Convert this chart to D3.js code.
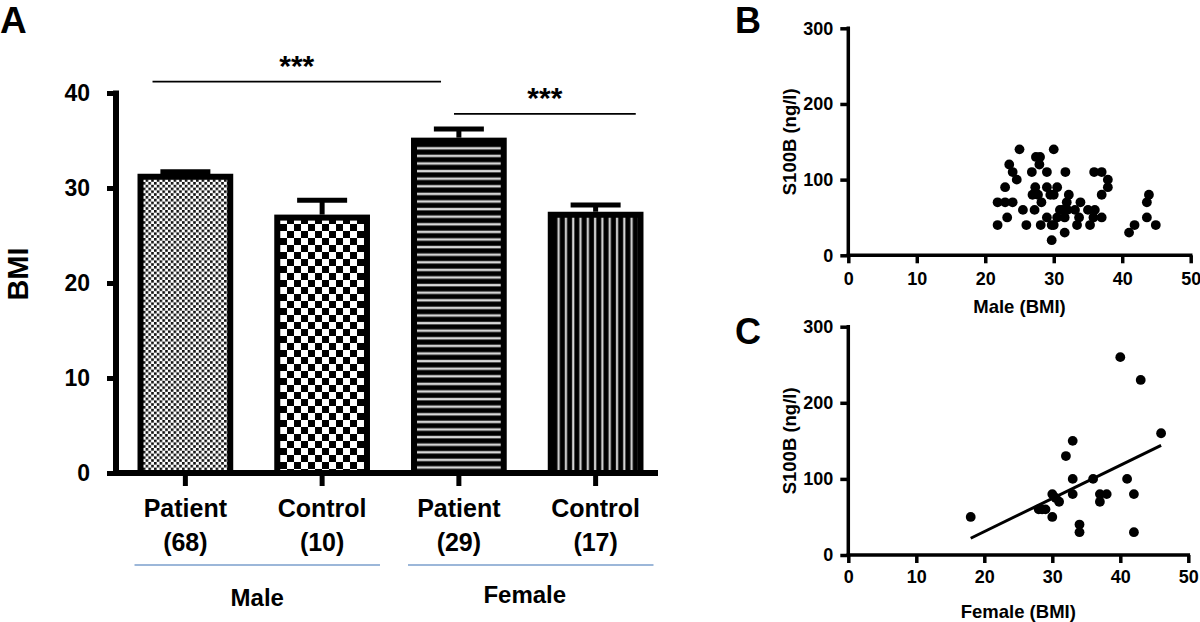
<!DOCTYPE html>
<html><head><meta charset="utf-8">
<script src="https://cdn.jsdelivr.net/npm/d3@7"></script>
<style>body{margin:0;background:#fff}svg text{font-family:"Liberation Sans",Arial,Helvetica,sans-serif;font-weight:bold;fill:#000}</style>
</head><body><svg id="c" width="1200" height="622"></svg>
<script>
// ---- Panel A data ----
const categories = ["Patient","Control","Patient","Control"];
const counts = ["(68)","(10)","(29)","(17)"];
const bmiMean = [31.5,27.2,35.3,27.5];
const bmiErrTop = [31.7,28.7,36.2,28.2];
const groups = ["Male","Female"];
const groupSpans = [[0,1],[2,3]];
const sigLabels = ["***","***"];
const sigSpans = [[0,2],[2,3]];
const sigLevels = [41.2,37.8];
const bmiTicks = [0,10,20,30,40];
// ---- Panel B data (male) ----
const maleBMI   = [25,30,27.4,28,27.9,23.5,24,26.8,29,31.7,35.9,37,24.6,37.9,22.9,27.3,29,30.5,37.9,26.9,27.7,29.5,30,32.2,37,43.9,21.8,22.9,24,28.2,31.9,33.9,43.6,25.5,27.2,30.9,32,33.1,35,36,31.3,23.2,29,30.5,31.6,33.7,35.8,37,43.6,21.8,26,28.1,29.7,30,33.4,35.3,41.8,44.9,31.6,41,29.7];
const maleS100B = [140,140,130,130,120,120,110,110,110,110,110,110,100,100,90,90,90,90,90,80,80,80,80,80,80,80,70,70,70,70,70,70,70,60,60,60,60,60,60,60,60,50,50,50,50,50,50,50,50,40,40,40,40,40,40,40,40,40,30,30,20];
// ---- Panel C data (female) ----
const femaleBMI   = [18,28,28.5,29,30,30,30.5,31,32,33,33,33,34,34,36,37,37,38,40,41,42,42,43,46];
const femaleS100B = [50,60,60,60,80,50,75,70,130,150,100,80,40,30,100,80,70,80,260,100,80,30,230,160];
const femaleFitBMI = [18,46];
const femaleFitS100B = [22,144];
const scatterXTicks = [0,10,20,30,40,50];
const scatterYTicks = [0,100,200,300];

const svg = d3.select("#c");
const defs = svg.append("defs");
// patterns
const p1 = defs.append("pattern").attr("id","p1").attr("patternUnits","userSpaceOnUse").attr("width",5.6).attr("height",5.6);
p1.append("rect").attr("width",5.6).attr("height",5.6).attr("fill","#fff");
p1.append("rect").attr("x",0).attr("y",0).attr("width",2.6).attr("height",2.6).attr("fill","#111");
p1.append("rect").attr("x",2.8).attr("y",2.8).attr("width",2.6).attr("height",2.6).attr("fill","#111");
const p2 = defs.append("pattern").attr("id","p2").attr("patternUnits","userSpaceOnUse").attr("width",14).attr("height",14);
p2.append("rect").attr("width",14).attr("height",14).attr("fill","#fff");
p2.append("rect").attr("x",0).attr("y",0).attr("width",7).attr("height",7).attr("fill","#000");
p2.append("rect").attr("x",7).attr("y",7).attr("width",7).attr("height",7).attr("fill","#000");
const p3 = defs.append("pattern").attr("id","p3").attr("patternUnits","userSpaceOnUse").attr("width",10).attr("height",7.6);
p3.append("rect").attr("width",10).attr("height",7.6).attr("fill","#000");
p3.append("rect").attr("y",2.6).attr("width",10).attr("height",2.6).attr("fill","#b8b8b8");
p3.append("rect").attr("y",3.4).attr("width",10).attr("height",1).attr("fill","#eee");
const p4 = defs.append("pattern").attr("id","p4").attr("patternUnits","userSpaceOnUse").attr("width",7.3).attr("height",10);
p4.append("rect").attr("width",7.3).attr("height",10).attr("fill","#000");
p4.append("rect").attr("x",2.6).attr("width",2.4).attr("height",10).attr("fill","#a8a8a8");
p4.append("rect").attr("x",3.3).attr("width",1).attr("height",10).attr("fill","#e8e8e8");
const fills = ["url(#p1)","url(#p2)","url(#p3)","url(#p4)"];

// ---- Panel A ----
const x = d3.scaleBand().domain(d3.range(categories.length)).range([117,664]).paddingInner(0.3).paddingOuter(0.15);
const y = d3.scaleLinear().domain([0,40]).range([473,93]);
const bw = x.bandwidth();
const A = svg.append("g");

A.selectAll("rect.bar").data(bmiMean).join("rect").attr("class","bar")
  .attr("x",(d,i)=>x(i)+3).attr("y",d=>y(d)+3)
  .attr("width",bw-6).attr("height",d=>y(0)-y(d)-3)
  .attr("fill",(d,i)=>fills[i]).attr("stroke","#000").attr("stroke-width",6);

const eb = A.selectAll("g.err").data(bmiErrTop).join("g").attr("class","err");
eb.append("line").attr("x1",(d,i)=>x(i)+bw/2).attr("x2",(d,i)=>x(i)+bw/2)
  .attr("y1",(d,i)=>y(bmiMean[i])).attr("y2",d=>y(d)).attr("stroke","#000").attr("stroke-width",5);
eb.append("line").attr("x1",(d,i)=>x(i)+bw/2-25).attr("x2",(d,i)=>x(i)+bw/2+25)
  .attr("y1",d=>y(d)).attr("y2",d=>y(d)).attr("stroke","#000").attr("stroke-width",5);

const yAx = A.append("g").attr("transform","translate(116,0)")
  .call(d3.axisLeft(y).tickValues(bmiTicks).tickSize(9).tickSizeOuter(0).tickPadding(17));
yAx.select(".domain").attr("stroke-width",6).attr("d","M0,"+(y(40)-2.5)+"V"+(y(0)+3));
yAx.selectAll(".tick line").attr("stroke-width",5);
yAx.selectAll(".tick text").attr("font-size",23).attr("font-family","Liberation Sans, Arial, sans-serif").attr("font-weight","bold");

const xAx = A.append("g").attr("transform","translate(0,473)")
  .call(d3.axisBottom(x).tickSize(13).tickSizeOuter(0).tickFormat(""));
xAx.select(".domain").attr("stroke-width",6).attr("d","M117,0H658");
xAx.selectAll(".tick line").attr("stroke-width",5);

A.selectAll("text.cat").data(categories).join("text").attr("class","cat")
  .attr("x",(d,i)=>x(i)+bw/2).attr("y",517).attr("text-anchor","middle").attr("font-size",25).text(d=>d);
A.selectAll("text.cnt").data(counts).join("text").attr("class","cnt")
  .attr("x",(d,i)=>x(i)+bw/2).attr("y",551).attr("text-anchor","middle").attr("font-size",25).text(d=>d);

A.selectAll("line.grp").data(groupSpans).join("line").attr("class","grp")
  .attr("x1",d=>x(d[0])-3).attr("x2",d=>x(d[1])+bw+10).attr("y1",565).attr("y2",565)
  .attr("stroke","#7b9fcc").attr("stroke-width",1.6);
A.selectAll("text.grp").data(groups).join("text").attr("class","grp")
  .attr("x",(d,i)=>(x(groupSpans[i][0])-3 + x(groupSpans[i][1])+bw+10)/2 - (i?6:0))
  .attr("y",(d,i)=>i?603:606).attr("text-anchor","middle").attr("font-size",24).text(d=>d);

const sigX1 = [15,43], sigX2 = [30,88];
A.selectAll("line.sig").data(sigSpans).join("line").attr("class","sig")
  .attr("x1",(d,i)=>x(d[0])+sigX1[i]).attr("x2",(d,i)=>x(d[1])+sigX2[i])
  .attr("y1",(d,i)=>y(sigLevels[i])).attr("y2",(d,i)=>y(sigLevels[i]))
  .attr("stroke","#000").attr("stroke-width",1.6);
A.selectAll("text.sig").data(sigLabels).join("text").attr("class","sig")
  .attr("x",(d,i)=>(x(sigSpans[i][0])+sigX1[i]+x(sigSpans[i][1])+sigX2[i])/2)
  .attr("y",(d,i)=>y(sigLevels[i])-6).attr("text-anchor","middle").attr("font-size",30).text(d=>d);

A.append("text").attr("transform","translate(28,274) rotate(-90)").attr("text-anchor","middle").attr("font-size",29).text("BMI");
svg.append("text").attr("x",0).attr("y",33).attr("font-size",37).text("A");
svg.append("text").attr("x",735).attr("y",33).attr("font-size",36).text("B");
svg.append("text").attr("x",735).attr("y",344).attr("font-size",36).text("C");

// ---- Scatter panels ----
function scatter(xs, ys, xr, yr, xLab, labPad, titleY, fit){
  const sx = d3.scaleLinear().domain([0,50]).range(xr);
  const sy = d3.scaleLinear().domain([0,300]).range(yr);
  const g = svg.append("g");
  const ax = g.append("g").attr("transform","translate(0,"+yr[0]+")")
    .call(d3.axisBottom(sx).tickValues(scatterXTicks).tickSize(8).tickSizeOuter(0).tickPadding(labPad));
  const ay = g.append("g").attr("transform","translate("+xr[0]+",0)")
    .call(d3.axisLeft(sy).tickValues(scatterYTicks).tickSize(8).tickSizeOuter(0).tickPadding(7));
  [ax,ay].forEach(a=>{
    a.select(".domain").attr("stroke-width",3.5);
    a.selectAll(".tick line").attr("stroke-width",3.5);
    a.selectAll(".tick text").attr("font-size",18).attr("font-family","Liberation Sans, Arial, sans-serif").attr("font-weight","bold");
  });
  ax.select(".domain").attr("d","M"+(xr[0]-1.75)+",0H"+(xr[1]+1.75));
  ay.select(".domain").attr("d","M0,"+(yr[1]-1.75)+"V"+(yr[0]+1.75));
  if(fit){
    g.append("line").attr("x1",sx(fit[0][0])).attr("x2",sx(fit[0][1]))
      .attr("y1",sy(fit[1][0])).attr("y2",sy(fit[1][1])).attr("stroke","#000").attr("stroke-width",3);
  }
  g.selectAll("circle").data(xs).join("circle").attr("cx",d=>sx(d)).attr("cy",(d,i)=>sy(ys[i]))
    .attr("r",4.9).attr("fill","#000");
  g.append("text").attr("x",(xr[0]+xr[1])/2).attr("y",titleY).attr("text-anchor","middle").attr("font-size",18.5).text(xLab);
  g.append("text").attr("transform","translate(796,"+((yr[0]+yr[1])/2)+") rotate(-90)")
    .attr("text-anchor","middle").attr("font-size",18.5).text("S100B (ng/l)");
}
scatter(maleBMI, maleS100B, [848.3,1190.7], [255.3,28.3], "Male (BMI)", 9, 313, null);
scatter(femaleBMI, femaleS100B, [848.3,1188.3], [555,326.7], "Female (BMI)", 7, 618, [femaleFitBMI, femaleFitS100B]);
</script></body></html>
